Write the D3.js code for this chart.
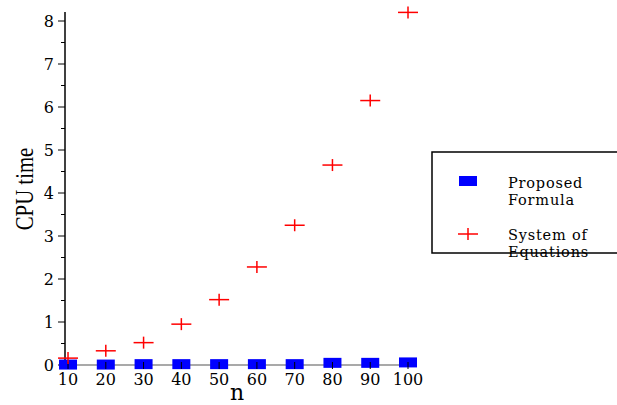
<!DOCTYPE html>
<html>
<head>
<meta charset="utf-8">
<script src="https://cdn.jsdelivr.net/npm/d3@7"></script>
<style>
  body { margin: 0; background: #fff; }
</style>
</head>
<body>
<div id="chart"></div>
<script>
// data
var nValues = [10, 20, 30, 40, 50, 60, 70, 80, 90, 100];
var proposedFormula = [0.01, 0.01, 0.02, 0.02, 0.02, 0.02, 0.02, 0.05, 0.05, 0.06];
var systemOfEquations = [0.16, 0.33, 0.52, 0.95, 1.52, 2.28, 3.25, 4.65, 6.15, 8.2];
var yTicks = [0, 1, 2, 3, 4, 5, 6, 7, 8];
var seriesNames = [["Proposed", "Formula"], ["System of", "Equations"]];

var width = 617, height = 405;
var wideSerif = "'DejaVu Serif', serif";
var tallSerif = "'Liberation Serif', 'Times New Roman', serif";

var x = d3.scaleLinear().domain([9.2, 100]).range([65, 408]);
var y = d3.scaleLinear().domain([0, 8]).range([365, 21]);

var svg = d3.select("#chart").append("svg")
  .attr("width", width)
  .attr("height", height)
  .attr("font-family", wideSerif);

// y axis line
svg.append("line")
  .attr("x1", x(9.2)).attr("x2", x(9.2))
  .attr("y1", y(0)).attr("y2", 12)
  .attr("stroke", "#000").attr("stroke-width", 1.5);

// x axis line
svg.append("line")
  .attr("x1", x(9.2)).attr("x2", x(100))
  .attr("y1", y(0)).attr("y2", y(0))
  .attr("stroke", "#555").attr("stroke-width", 1.2);

// y ticks, major + minor
var yAxis = svg.append("g");
d3.range(0, 8.01, 0.5).forEach(function (v) {
  var major = v % 1 === 0;
  yAxis.append("line")
    .attr("x1", x(9.2) - (major ? 7 : 4)).attr("x2", x(9.2))
    .attr("y1", y(v)).attr("y2", y(v))
    .attr("stroke", "#000").attr("stroke-width", 1);
});
yAxis.selectAll("text").data(yTicks).enter().append("text")
  .attr("x", 54).attr("y", function (d) { return y(d) + 5.5; })
  .attr("text-anchor", "end")
  .attr("font-size", 16)
  .text(function (d) { return d; });

// x ticks
var xAxis = svg.append("g");
xAxis.selectAll("line").data(nValues).enter().append("line")
  .attr("x1", function (d) { return x(d); }).attr("x2", function (d) { return x(d); })
  .attr("y1", y(0) - 3).attr("y2", y(0) + 4)
  .attr("stroke", "#000").attr("stroke-width", 1);
xAxis.selectAll("text").data(nValues).enter().append("text")
  .attr("x", function (d) { return x(d); }).attr("y", 385)
  .attr("text-anchor", "middle")
  .attr("font-size", 16)
  .text(function (d) { return d; });

// axis titles
svg.append("text")
  .attr("transform", "translate(33,189) rotate(-90) scale(0.8,1)")
  .attr("text-anchor", "middle")
  .attr("font-family", tallSerif)
  .attr("font-size", 26)
  .text("CPU time");
svg.append("text")
  .attr("x", 237).attr("y", 400)
  .attr("text-anchor", "middle")
  .attr("font-size", 22)
  .text("n");

// proposed formula: blue squares
svg.selectAll(".sq").data(nValues).enter().append("rect")
  .attr("class", "sq")
  .attr("x", function (d) { return x(d) - 9; })
  .attr("y", function (d, i) { return y(proposedFormula[i]) - 5; })
  .attr("width", 18).attr("height", 10)
  .attr("fill", "#0000ff");

// tick marks sit on top of the squares
xAxis.raise();

// system of equations: red crosses
var cross = svg.selectAll(".cr").data(nValues).enter().append("g")
  .attr("class", "cr")
  .attr("transform", function (d, i) {
    return "translate(" + x(d) + "," + y(systemOfEquations[i]) + ")";
  });
cross.append("line").attr("x1", -10).attr("x2", 10).attr("y1", 0).attr("y2", 0)
  .attr("stroke", "#ff0000").attr("stroke-width", 1.5);
cross.append("line").attr("x1", 0).attr("x2", 0).attr("y1", -6).attr("y2", 6)
  .attr("stroke", "#ff0000").attr("stroke-width", 1.5);

// legend
var legend = svg.append("g");
legend.append("rect")
  .attr("x", 432).attr("y", 152).attr("width", 200).attr("height", 101)
  .attr("fill", "#fff").attr("stroke", "#000").attr("stroke-width", 1.5);
legend.append("rect")
  .attr("x", 459).attr("y", 176).attr("width", 18).attr("height", 10)
  .attr("fill", "#0000ff");
legend.append("line").attr("x1", 458).attr("x2", 478).attr("y1", 234).attr("y2", 234)
  .attr("stroke", "#ff0000").attr("stroke-width", 1.5);
legend.append("line").attr("x1", 468).attr("x2", 468).attr("y1", 228).attr("y2", 240)
  .attr("stroke", "#ff0000").attr("stroke-width", 1.5);
var lines = [[seriesNames[0][0], 188], [seriesNames[0][1], 205], [seriesNames[1][0], 240], [seriesNames[1][1], 257]];
legend.selectAll("text").data(lines).enter().append("text")
  .attr("x", 508).attr("y", function (d) { return d[1]; })
  .attr("font-size", 14.5)
  .attr("letter-spacing", 0.8)
  .text(function (d) { return d[0]; });
</script>
</body>
</html>
